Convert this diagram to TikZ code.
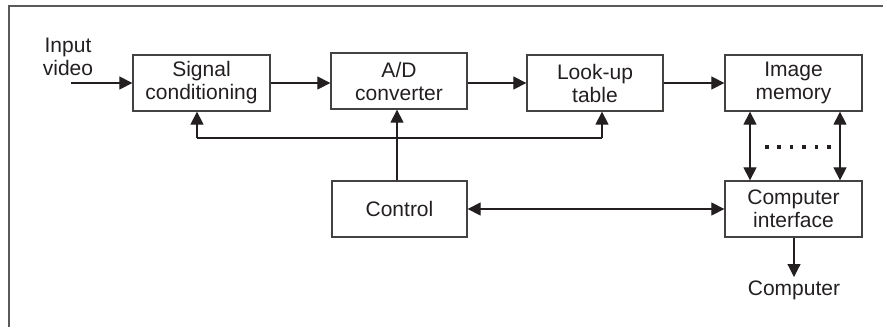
\documentclass[tikz,border=0pt]{standalone}
\usepackage{fontspec}
\setmainfont{Liberation Sans}
\usetikzlibrary{arrows.meta,calc}
\definecolor{ink}{HTML}{231F20}
\definecolor{frame}{HTML}{5A5A5A}
\begin{document}
\begin{tikzpicture}[x=1pt,y=-1pt,
  every node/.style={font=\fontsize{21}{23}\selectfont, text=ink},
  block/.style={draw=ink!85, line width=1.3pt, minimum width=#1, minimum height=56pt,
                inner sep=0pt, align=center},
  block/.default=137pt,
  link/.style={draw=ink, line width=1.2pt},
  arr/.style={link, -{Triangle[length=13pt,width=13pt]}},
  darr/.style={link, {Triangle[length=13pt,width=13pt]}-{Triangle[length=13pt,width=13pt]}}]
  \useasboundingbox (0,0) rectangle (887,327);
  % open frame: top and left edges only
  \draw[frame, line width=1.6pt] (9,327) -- (9,6) -- (883,6);

  % blocks
  \node[block] (sc)   at (201.5,83) {Signal\\conditioning};
  \node[block=136pt] (ad)   at (399,81)   {A/D\\converter};
  \node[block=136pt] (lut)  at (595,83)   {Look-up\\table};
  \node[block] (mem)  at (793.5,83) {Image\\memory};
  \node[block=135pt] (ctrl) at (399.5,209) {Control};
  \node[block] (ci)   at (793.5,209) {Computer\\interface};

  % free labels
  \node[align=center] (inp) at (68,57) {Input\\video};
  \node (comp) at (794,290) {Computer};
  \coordinate (inA) at (71,83);
  \coordinate (fbL) at (197,138);
  \coordinate (fbR) at (602,138);
  \coordinate (ciOut) at (794,277);

  % main signal chain
  \draw[arr] (inA) -- (sc.west);
  \draw[arr] (sc.east) -- (sc.east -| ad.west);
  \draw[arr] (ad.east |- lut.west) -- (lut.west);
  \draw[arr] (lut.east) -- (mem.west);

  % control lines
  \draw[arr] (ctrl.north -| 397,0) -- (ad.south -| 397,0);
  \draw[link] (fbL) -- (fbR);
  \draw[arr] (fbL) -- (fbL |- sc.south);
  \draw[arr] (fbR) -- (fbR |- lut.south);
  \draw[darr] (ctrl.east) -- (ci.west);

  % memory <-> interface buses
  \draw[darr] (mem.south -| 750,0) -- (ci.north -| 750,0);
  \draw[darr] (mem.south -| 840,0) -- (ci.north -| 840,0);
  \foreach \i in {0,...,5}
    \fill[ink] ($(765,144.5)+(\i*12.4,0)$) rectangle ++(3.6,4.2);

  % output to computer
  \draw[arr] (ci.south -| ciOut) -- (ciOut);
\end{tikzpicture}
\end{document}
